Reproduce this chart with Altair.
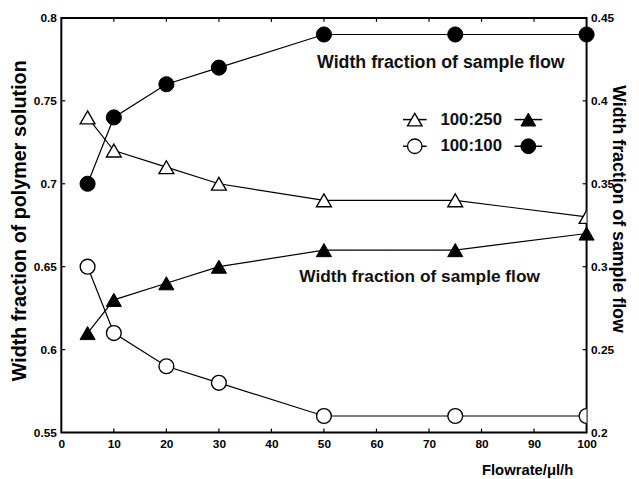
import altair as alt
import pandas as pd

# ---------------- data ----------------
flowrate = [5, 10, 20, 30, 50, 75, 100]
polymer_100_250 = [0.74, 0.72, 0.71, 0.70, 0.69, 0.69, 0.68]
polymer_100_100 = [0.65, 0.61, 0.59, 0.58, 0.56, 0.56, 0.56]
sample_100_250 = [0.26, 0.28, 0.29, 0.30, 0.31, 0.31, 0.32]
sample_100_100 = [0.35, 0.39, 0.41, 0.42, 0.44, 0.44, 0.44]
series_names = ["100:250", "100:100"]
x_tick_values = [0, 10, 20, 30, 40, 50, 60, 70, 80, 90, 100]
left_tick_values = [0.55, 0.6, 0.65, 0.7, 0.75, 0.8]
right_tick_values = [0.2, 0.25, 0.3, 0.35, 0.4, 0.45]
annotation_texts = ["Width fraction of sample flow", "Width fraction of sample flow"]

W, H = 532, 420
FONT = "Liberation Sans"
shapes = ["triangle-up", "circle"]

left_df = pd.DataFrame({
    "flowrate": flowrate * 2,
    "value": polymer_100_250 + polymer_100_100,
    "series": [series_names[0]] * len(flowrate) + [series_names[1]] * len(flowrate),
})
right_df = pd.DataFrame({
    "flowrate": flowrate * 2,
    "value": sample_100_250 + sample_100_100,
    "series": [series_names[0]] * len(flowrate) + [series_names[1]] * len(flowrate),
})
xt_df = pd.DataFrame({"flowrate": x_tick_values[1:-1]})
lt_df = pd.DataFrame({"value": left_tick_values[1:-1]})
rt_df = pd.DataFrame({"value": right_tick_values[1:-1]})

x_enc = alt.X(
    "flowrate:Q",
    scale=alt.Scale(domain=[0, 100], nice=False, zero=False),
    axis=alt.Axis(values=x_tick_values, format="d", labelPadding=6, labelFlush=False,
                  title="Flowrate/μl/h", titleX=518, titleY=37, titleAlign="right",
                  titleBaseline="middle", titleFontSize=15, titleAngle=0),
)
left_y = alt.Y(
    "value:Q",
    scale=alt.Scale(domain=[0.55, 0.8], nice=False, zero=False),
    axis=alt.Axis(orient="left", values=left_tick_values, format=".2~f", labelPadding=5,
                  labelFlush=False,
                  title="Width fraction of polymer solution", titleX=-42, titleY=205,
                  titleAngle=-90, titleAlign="center", titleBaseline="middle", titleFontSize=20),
)
right_y = alt.Y(
    "value:Q",
    scale=alt.Scale(domain=[0.2, 0.45], nice=False, zero=False),
    axis=alt.Axis(orient="right", values=right_tick_values, format=".2~f", labelPadding=4,
                  labelFlush=False,
                  title="Width fraction of sample flow", titleX=31, titleY=193,
                  titleAngle=90, titleAlign="center", titleBaseline="middle", titleFontSize=18),
)
shape_enc = alt.Shape("series:N", scale=alt.Scale(domain=series_names, range=shapes), legend=None)

# ---------------- left (polymer solution, open markers) ----------------
left_line = alt.Chart(left_df).mark_line(color="black", strokeWidth=1.2).encode(
    x=x_enc, y=left_y, detail="series:N")
left_pts = alt.Chart(left_df).mark_point(
    filled=True, fill="white", stroke="black", strokeWidth=1.4, size=225, opacity=1, clip=True
).encode(x=x_enc, y=left_y, shape=shape_enc)
xt_bottom = alt.Chart(xt_df).mark_rule(color="black", strokeWidth=1.2).encode(
    x=x_enc, y=alt.value(H), y2=alt.value(H - 4))
xt_top = alt.Chart(xt_df).mark_rule(color="black", strokeWidth=1.2).encode(
    x=x_enc, y=alt.value(0), y2=alt.value(4))
lt = alt.Chart(lt_df).mark_rule(color="black", strokeWidth=1.2).encode(
    y=left_y, x=alt.value(0), x2=alt.value(4))
left_group = alt.layer(left_line, left_pts, xt_bottom, xt_top, lt)

# ---------------- right (sample flow, filled markers) ----------------
right_line = alt.Chart(right_df).mark_line(color="black", strokeWidth=1.2).encode(
    x=x_enc, y=right_y, detail="series:N")
right_pts = alt.Chart(right_df).mark_point(
    filled=True, fill="black", stroke="black", strokeWidth=1, size=235, opacity=1
).encode(x=x_enc, y=right_y, shape=shape_enc)
rt = alt.Chart(rt_df).mark_rule(color="black", strokeWidth=1.2).encode(
    y=right_y, x=alt.value(W - 4), x2=alt.value(W))
right_group = alt.layer(right_line, right_pts, rt)

# ---------------- annotations ----------------
extra = []
ann_pos = [(259, 46, 18), (241, 262, 17.5)]
for txt, (ax, ay, fs) in zip(annotation_texts, ann_pos):
    extra.append(
        alt.Chart(pd.DataFrame({"t": [txt]})).mark_text(
            align="left", baseline="middle", font=FONT, fontWeight="bold", fontSize=fs, color="#111"
        ).encode(x=alt.value(ax), y=alt.value(ay), text="t:N")
    )

# ---------------- manual legend ----------------
legend_rows = [103, 130]
for name, shp, yv in zip(series_names, shapes, legend_rows):
    d = alt.Chart(pd.DataFrame({"label": [name]}))
    extra.append(d.mark_rule(color="black", strokeWidth=1.5).encode(
        x=alt.value(346), x2=alt.value(370), y=alt.value(yv)))
    extra.append(d.mark_point(shape=shp, filled=True, fill="white", stroke="black",
                              strokeWidth=1.4, size=215, opacity=1).encode(
        x=alt.value(358), y=alt.value(yv)))
    extra.append(d.mark_text(align="left", baseline="middle", font=FONT, fontWeight="bold",
                             fontSize=17, color="#111").encode(
        x=alt.value(384), y=alt.value(yv), text="label:N"))
    extra.append(d.mark_rule(color="black", strokeWidth=1.5).encode(
        x=alt.value(459), x2=alt.value(487), y=alt.value(yv)))
    extra.append(d.mark_point(shape=shp, filled=True, fill="black", stroke="black",
                              strokeWidth=1, size=225, opacity=1).encode(
        x=alt.value(473), y=alt.value(yv)))

chart = alt.layer(left_group, right_group, *extra).resolve_scale(
    y="independent"
).properties(
    width=W, height=H,
    autosize=alt.AutoSizeParams(type="none"),
    padding={"left": 54, "top": 7, "right": 45, "bottom": 44},
).configure_view(
    stroke="black", strokeWidth=2
).configure_axis(
    domain=False, ticks=False, grid=False,
    labelFont=FONT, labelFontWeight="bold", labelFontSize=12, labelColor="black",
    titleFont=FONT, titleFontWeight="bold", titleColor="black",
)

chart.save("out.html", embed_options={"renderer": "svg", "actions": False})
